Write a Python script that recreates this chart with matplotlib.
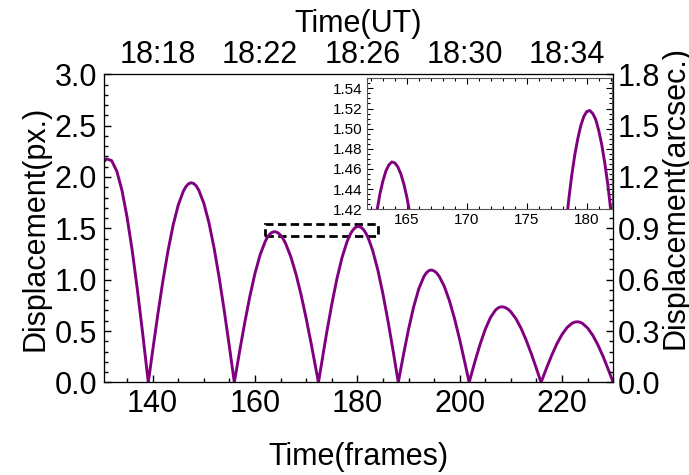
import matplotlib
matplotlib.use("Agg")
import matplotlib.pyplot as plt
from matplotlib.patches import Rectangle
from matplotlib.ticker import MultipleLocator

plt.rcParams['font.family'] = ['Liberation Sans', 'DejaVu Sans']

# displacement curve (frame number, displacement in px)
frames = [130.5, 131, 132, 133, 134, 135, 136, 137, 138, 139, 139.15,
          140, 141, 142, 143, 144, 145, 146, 146.5, 147, 147.5, 148, 148.5, 149, 150, 151, 152, 153, 154, 155, 155.96,
          156, 157, 158, 159, 160, 161, 162, 162.25, 162.5, 162.75, 163, 163.25, 163.5, 163.75,
          164, 164.25, 164.5, 164.75, 165, 165.25, 165.5, 165.75, 166, 167, 168, 169, 170, 171, 172, 172.4,
          173, 174, 175, 176, 177, 178, 178.25, 178.5, 178.75, 179, 179.25, 179.5, 179.75,
          180, 180.25, 180.5, 180.75, 181, 181.25, 181.5, 181.75, 182, 182.25, 183, 184, 185, 186, 187, 188,
          189, 190, 191, 192, 193, 193.5, 194, 194.5, 195, 195.5, 196, 197, 198, 199, 200, 201, 201.85,
          202, 203, 204, 205, 206, 207, 207.5, 208, 208.5, 209, 209.5, 210, 211, 212, 213, 214, 215, 215.9,
          216, 217, 218, 219, 220, 221, 222, 222.5, 223, 223.5, 224, 225, 226, 227, 228, 229, 230]
disp = [2.152, 2.176, 2.159, 2.055, 1.870, 1.609, 1.286, 0.909, 0.497, 0.065, 0.0,
        0.308, 0.659, 0.987, 1.281, 1.531, 1.727, 1.862, 1.906, 1.933, 1.944, 1.937, 1.914, 1.873, 1.744, 1.555, 1.310, 1.019, 0.695, 0.346, 0.0,
        0.012, 0.304, 0.583, 0.839, 1.062, 1.242, 1.373, 1.397, 1.418, 1.435, 1.448, 1.458, 1.464, 1.467,
        1.466, 1.462, 1.455, 1.445, 1.432, 1.416, 1.397, 1.375, 1.350, 1.223, 1.056, 0.854, 0.623, 0.371, 0.107, 0.0,
        0.183, 0.482, 0.759, 1.007, 1.214, 1.372, 1.402, 1.430, 1.454, 1.474, 1.490, 1.503, 1.512,
        1.517, 1.518, 1.515, 1.509, 1.498, 1.484, 1.466, 1.445, 1.419, 1.390, 1.283, 1.095, 0.862, 0.594, 0.304, 0.0,
        0.266, 0.516, 0.735, 0.910, 1.030, 1.067, 1.089, 1.094, 1.085, 1.065, 1.032, 0.934, 0.794, 0.619, 0.416, 0.195, 0.0,
        0.027, 0.207, 0.373, 0.517, 0.630, 0.704, 0.725, 0.735, 0.735, 0.726, 0.710, 0.687, 0.619, 0.526, 0.410, 0.278, 0.134, 0.0,
        0.013, 0.143, 0.266, 0.376, 0.467, 0.535, 0.577, 0.587, 0.590, 0.586, 0.574, 0.529, 0.459, 0.366, 0.255, 0.130, 0.0]

ut_frames = [141, 161, 181, 201, 221]
ut_labels = ['18:18', '18:22', '18:26', '18:30', '18:34']
px_to_arcsec = 0.6

purple = '#800080'
fs = 22

fig = plt.figure(figsize=(6.89, 4.75), dpi=100)
ax = fig.add_axes([0.151, 0.195, 0.739, 0.6486])
ax.plot(frames, disp, color=purple, lw=2.1)
ax.set_xlim(130.5, 230)
ax.set_ylim(0, 3.0)
ax.xaxis.set_major_locator(MultipleLocator(20))
ax.xaxis.set_minor_locator(MultipleLocator(5))
ax.yaxis.set_minor_locator(MultipleLocator(0.1))
ax.set_yticks([0, 0.5, 1.0, 1.5, 2.0, 2.5, 3.0])
ax.set_yticklabels(['0.0', '0.5', '1.0', '1.5', '2.0', '2.5', '3.0'])
ax.tick_params(which='both', direction='in', top=True, right=False, labelsize=fs, pad=5)
ax.tick_params(which='major', length=5, width=1)
ax.tick_params(which='minor', length=3, width=1)
ax.set_xlabel('Time(frames)', fontsize=fs, labelpad=16)
ax.set_ylabel('Displacement(px.)', fontsize=fs, labelpad=3)
for s in ['top', 'right']:
    ax.spines[s].set_color('#555555')

# dashed box marking the zoomed region
ax.add_patch(Rectangle((162, 1.425), 22.1, 0.117, fill=False, ec='black',
                       lw=2, ls=(0, (3, 1.6))))

# right axis in arcsec
axr = ax.twinx()
axr.set_ylim(0, 3.0 * px_to_arcsec)
axr.yaxis.set_minor_locator(MultipleLocator(0.06))
axr.set_yticks([0, 0.3, 0.6, 0.9, 1.2, 1.5, 1.8])
axr.set_yticklabels(['0.0', '0.3', '0.6', '0.9', '1.2', '1.5', '1.8'])
axr.tick_params(which='both', direction='in', labelsize=fs, pad=3)
axr.tick_params(which='major', length=5, width=1)
axr.tick_params(which='minor', length=3, width=1)
axr.set_ylabel('Displacement(arcsec.)', fontsize=fs, rotation=90)
axr.yaxis.set_label_coords(1.092, 0.6)

# top axis in UT
axt = ax.twiny()
axt.set_xlim(ax.get_xlim())
axt.set_xticks(ut_frames)
axt.set_xticklabels(ut_labels)
axt.tick_params(axis='x', length=0, labelsize=fs, pad=3)
axt.set_xlabel('Time(UT)', fontsize=fs, labelpad=6)

# inset
ins = fig.add_axes([0.5322, 0.5594, 0.356, 0.2758])
ins.plot(frames, disp, color=purple, lw=2.1)
ins.set_xlim(161.65, 182.1)
ins.set_ylim(1.42, 1.55)
ins.xaxis.set_major_locator(MultipleLocator(5))
ins.xaxis.set_minor_locator(MultipleLocator(1))
ins.set_yticks([1.42, 1.44, 1.46, 1.48, 1.50, 1.52, 1.54])
ins.yaxis.set_minor_locator(MultipleLocator(0.005))
ins.tick_params(which='both', direction='in', top=True, right=True, labelsize=11, pad=3)
ins.tick_params(which='major', length=4, width=0.8)
ins.tick_params(which='minor', length=2, width=0.8)
for s in ins.spines.values():
    s.set_linewidth(0.8)
    s.set_color('#555555')

fig.savefig('out.png', dpi=100)
